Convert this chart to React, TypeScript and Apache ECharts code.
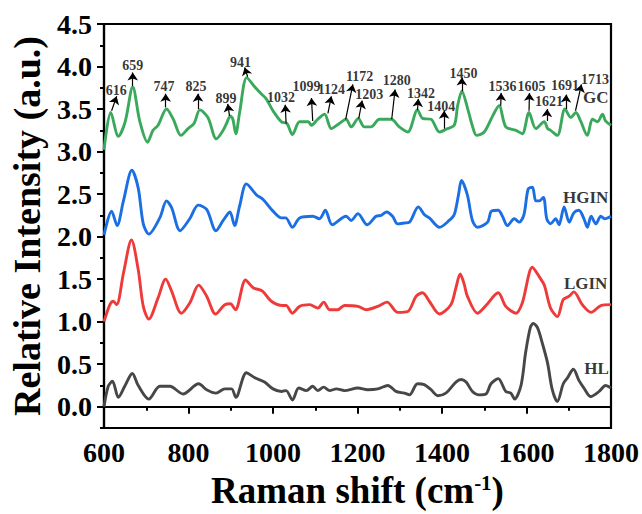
import React, { useEffect, useRef } from "react";
import * as echarts from "echarts";

const xTicks = [600, 800, 1000, 1200, 1400, 1600, 1800];
const yTickLabels = [0, 0.5, 1, 1.5, 2, 2.5, 3, 3.5, 4, 4.5];
const yMinorTicks = [-0.25, 0, 0.25, 0.5, 0.75, 1, 1.25, 1.5, 1.75, 2, 2.25, 2.5, 2.75, 3, 3.25, 3.5, 3.75, 4, 4.25, 4.5];

const gcData = [[600,3.02],[616,3.46],[634,3.18],[650,3.35],[668,3.76],[685,3.35],[703,3.11],[716,3.25],[728,3.31],[748,3.50],[764,3.38],[782,3.19],[799,3.27],[813,3.33],[827,3.49],[846,3.40],[866,3.15],[882,3.25],[890,3.33],[899,3.42],[905,3.38],[912,3.21],[921,3.46],[938,3.87],[957,3.76],[972,3.68],[984,3.62],[1000,3.48],[1020,3.35],[1033,3.33],[1046,3.20],[1063,3.35],[1083,3.35],[1091,3.31],[1106,3.38],[1122,3.44],[1138,3.27],[1157,3.33],[1173,3.38],[1185,3.29],[1202,3.39],[1216,3.29],[1232,3.29],[1252,3.38],[1280,3.38],[1299,3.29],[1319,3.23],[1342,3.49],[1354,3.39],[1374,3.38],[1394,3.23],[1409,3.26],[1429,3.31],[1437,3.54],[1447,3.71],[1461,3.50],[1472,3.30],[1482,3.19],[1500,3.23],[1520,3.42],[1535,3.54],[1551,3.29],[1575,3.25],[1590,3.21],[1606,3.46],[1622,3.27],[1642,3.35],[1650,3.27],[1657,3.25],[1673,3.19],[1691,3.50],[1705,3.40],[1717,3.46],[1728,3.36],[1744,3.19],[1756,3.38],[1768,3.35],[1780,3.44],[1787,3.36],[1800,3.31]];

const hginData = [[600,2.02],[618,2.30],[631,2.13],[646,2.42],[666,2.78],[681,2.57],[693,2.15],[706,2.03],[732,2.22],[748,2.42],[760,2.34],[780,2.07],[803,2.21],[823,2.37],[843,2.32],[865,2.07],[882,2.19],[898,2.29],[909,2.13],[921,2.36],[937,2.62],[961,2.49],[976,2.44],[1000,2.30],[1020,2.22],[1030,2.22],[1046,2.11],[1063,2.22],[1094,2.24],[1110,2.21],[1124,2.31],[1140,2.14],[1173,2.24],[1185,2.19],[1201,2.27],[1223,2.14],[1244,2.24],[1256,2.25],[1269,2.29],[1283,2.24],[1295,2.15],[1311,2.16],[1323,2.17],[1344,2.35],[1358,2.26],[1370,2.22],[1394,2.11],[1417,2.19],[1429,2.26],[1439,2.49],[1446,2.66],[1460,2.49],[1472,2.19],[1484,2.11],[1508,2.17],[1517,2.30],[1533,2.31],[1543,2.24],[1555,2.13],[1571,2.21],[1583,2.17],[1594,2.26],[1604,2.56],[1614,2.58],[1622,2.42],[1630,2.42],[1640,2.46],[1648,2.21],[1657,2.15],[1669,2.21],[1677,2.14],[1689,2.35],[1701,2.17],[1712,2.28],[1724,2.31],[1736,2.21],[1744,2.11],[1753,2.24],[1764,2.15],[1776,2.24],[1785,2.21],[1800,2.24]];

const lginData = [[600,1.00],[614,1.20],[622,1.24],[630,1.20],[646,1.57],[665,1.96],[681,1.61],[693,1.18],[706,1.03],[728,1.28],[746,1.50],[760,1.36],[783,1.10],[803,1.22],[824,1.43],[843,1.30],[864,1.09],[886,1.20],[899,1.21],[911,1.14],[935,1.49],[953,1.40],[975,1.36],[996,1.24],[1023,1.19],[1031,1.19],[1046,1.10],[1063,1.18],[1087,1.20],[1106,1.16],[1120,1.23],[1134,1.14],[1153,1.14],[1169,1.19],[1201,1.18],[1221,1.14],[1248,1.18],[1270,1.23],[1295,1.11],[1319,1.12],[1339,1.30],[1354,1.34],[1370,1.24],[1394,1.09],[1421,1.20],[1432,1.38],[1443,1.56],[1452,1.45],[1460,1.30],[1484,1.10],[1504,1.19],[1533,1.34],[1551,1.18],[1575,1.10],[1590,1.22],[1614,1.64],[1630,1.53],[1642,1.43],[1657,1.16],[1673,1.06],[1687,1.26],[1701,1.30],[1712,1.35],[1732,1.20],[1753,1.11],[1776,1.19],[1800,1.20]];

const hlData = [[600,0.00],[610,0.24],[620,0.30],[634,0.11],[650,0.25],[667,0.39],[681,0.25],[706,0.09],[732,0.24],[756,0.24],[787,0.15],[824,0.27],[843,0.20],[865,0.16],[886,0.21],[902,0.21],[912,0.11],[937,0.40],[957,0.34],[980,0.29],[1000,0.21],[1020,0.18],[1031,0.19],[1046,0.08],[1061,0.22],[1079,0.19],[1094,0.24],[1106,0.19],[1120,0.23],[1134,0.19],[1150,0.21],[1169,0.19],[1201,0.22],[1224,0.20],[1248,0.21],[1272,0.25],[1291,0.18],[1311,0.16],[1323,0.14],[1342,0.27],[1358,0.26],[1374,0.20],[1390,0.13],[1409,0.16],[1433,0.29],[1445,0.32],[1457,0.29],[1472,0.18],[1488,0.14],[1504,0.15],[1516,0.27],[1533,0.33],[1551,0.18],[1563,0.16],[1572,0.09],[1587,0.25],[1598,0.64],[1609,0.93],[1616,0.98],[1626,0.93],[1639,0.72],[1650,0.51],[1661,0.20],[1673,0.06],[1687,0.27],[1697,0.34],[1711,0.44],[1724,0.31],[1736,0.22],[1752,0.12],[1772,0.18],[1787,0.25],[1800,0.22]];

const seriesNames = ["GC", "HGIN", "LGIN", "HL"];
const seriesLabelAt = [[1764, 3.64], [1740, 2.46], [1740, 1.45], [1766, 0.45]];

const peakLabels = ["616","659","747","825","899","941","1032","1099","1124","1172","1203","1280","1342","1404","1450","1536","1605","1621","1691","1713"];
const arrowFrom = [[618,3.48],[668,3.77],[746,3.52],[823,3.50],[897,3.42],[940,3.88],[1031,3.33],[1094,3.36],[1130,3.45],[1172,3.38],[1203,3.39],[1281,3.38],[1342,3.49],[1405,3.27],[1447,3.71],[1539,3.54],[1606,3.48],[1648,3.36],[1693,3.50],[1716,3.48]];
const arrowTo = [[630,3.65],[668,3.93],[746,3.68],[822,3.68],[893,3.56],[933,3.99],[1029,3.55],[1091,3.63],[1138,3.65],[1189,3.79],[1211,3.60],[1289,3.73],[1344,3.62],[1405,3.48],[1447,3.87],[1540,3.69],[1607,3.69],[1649,3.50],[1694,3.67],[1730,3.79]];
const labelAt = [[629,3.72],[668,4.01],[742,3.76],[818,3.76],[889,3.62],[923,4.05],[1019,3.63],[1079,3.77],[1138,3.73],[1205,3.88],[1228,3.67],[1293,3.84],[1350,3.68],[1398,3.53],[1451,3.92],[1543,3.76],[1612,3.77],[1653,3.59],[1691,3.78],[1762,3.85]];

const colors = ["#3aa95b", "#1c6fe3", "#ef3a3a", "#474747"];
const FONT = "'Liberation Serif', 'Times New Roman', serif";

export default function App() {
  const ref = useRef<HTMLDivElement>(null);
  useEffect(() => {
    document.body.style.margin = "0";
    const chart = echarts.init(ref.current!, null, { renderer: "svg" });
    const lineSeries = [gcData, hginData, lginData, hlData].map((d, i) => ({
      type: "line",
      name: seriesNames[i],
      data: d,
      smooth: 0.3,
      symbol: "none",
      lineStyle: { color: colors[i], width: 2.9 },
      itemStyle: { color: colors[i] },
      silent: true,
      z: 3,
      ...(i === 0
        ? {
            markLine: {
              silent: true,
              symbol: ["none", "arrow"],
              symbolSize: 8,
              label: { show: false },
              lineStyle: { color: "#000", width: 1.2, type: "solid" },
              emphasis: { disabled: true },
              data: peakLabels.map((_, k) => [
                { coord: arrowFrom[k] },
                { coord: arrowTo[k] },
              ]),
            },
          }
        : {}),
    }));
    chart.setOption({
      animation: false,
      grid: {
        left: 104,
        right: 30,
        top: 24,
        bottom: 81,
        show: true,
        borderColor: "#000",
        borderWidth: 2.2,
        backgroundColor: "transparent",
      },
      xAxis: {
        type: "value",
        min: 600,
        max: 1800,
        interval: 200,
        axisLine: { lineStyle: { color: "#000", width: 2.2 } },
        axisTick: { show: true, inside: false, length: 7, lineStyle: { color: "#000", width: 2 } },
        minorTick: { show: true, splitNumber: 2, length: 4, lineStyle: { color: "#000", width: 2 } },
        splitLine: { show: false },
        axisLabel: {
          color: "#000",
          fontSize: 28,
          fontWeight: "bold",
          fontFamily: FONT,
          margin: 10,
          formatter: (v: number) => (xTicks.includes(v) ? String(v) : ""),
        },
        name: "Raman shift (cm{sup|-1})",
        nameLocation: "middle",
        nameGap: 44,
        nameTextStyle: {
          color: "#000",
          fontSize: 37,
          fontWeight: "bold",
          fontFamily: FONT,
          rich: {
            sup: {
              fontSize: 21,
              fontWeight: "bold",
              fontFamily: FONT,
              color: "#000",
              verticalAlign: "top",
              padding: [0, 0, 14, 0],
            },
          },
        },
      },
      yAxis: [
        {
          type: "value",
          min: -0.25,
          max: 4.5,
          axisLine: { show: true, lineStyle: { color: "#000", width: 2.2 } },
          axisTick: { show: true, inside: false, length: 7, customValues: yTickLabels, lineStyle: { color: "#000", width: 2 } },
          splitLine: { show: false },
          axisLabel: {
            color: "#000",
            fontSize: 28,
            fontWeight: "bold",
            fontFamily: FONT,
            margin: 12,
            customValues: yTickLabels,
            formatter: (v: number) => v.toFixed(1),
          },
          name: "Relative Intensity (a.u.)",
          nameLocation: "middle",
          nameGap: 58,
          nameTextStyle: { color: "#000", fontSize: 38, fontWeight: "bold", fontFamily: FONT },
        },
        {
          type: "value",
          min: -0.25,
          max: 4.5,
          position: "left",
          axisLine: { show: false },
          axisTick: { show: true, inside: false, length: 4, customValues: yMinorTicks, lineStyle: { color: "#000", width: 2 } },
          axisLabel: { show: false },
          splitLine: { show: false },
        },
      ],
      series: [
        ...lineSeries,
        {
          type: "scatter",
          silent: true,
          symbolSize: 0,
          data: peakLabels.map((n, k) => ({ name: n, value: labelAt[k] })),
          label: {
            show: true,
            position: "inside",
            formatter: "{b}",
            color: "#000",
            fontSize: 14,
            fontWeight: "bold",
            fontFamily: FONT,
          },
          z: 5,
        },
        {
          type: "scatter",
          silent: true,
          symbolSize: 0,
          data: seriesNames.map((n, k) => ({ name: n, value: seriesLabelAt[k] })),
          label: {
            show: true,
            position: "inside",
            formatter: "{b}",
            color: "#000",
            fontSize: 17,
            fontWeight: "bold",
            fontFamily: FONT,
          },
          z: 5,
        },
      ],
    });
    return () => chart.dispose();
  }, []);
  return <div ref={ref} style={{ width: 642, height: 514 }} />;
}
